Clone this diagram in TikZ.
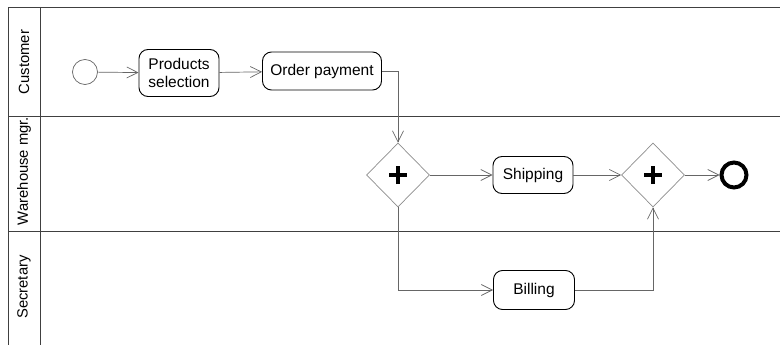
\documentclass[tikz,border=0pt]{standalone}
\usepackage{fontspec}
\setmainfont{Liberation Sans}
\usetikzlibrary{arrows.meta,shapes.geometric}
\begin{document}
\begin{tikzpicture}[x=1pt,y=-1pt,
  lane/.style={draw=black!75,line width=0.8pt},
  lanelabel/.style={rotate=90,font=\fontsize{14.8}{18}\selectfont},
  task/.style={draw=black,line width=0.9pt,rounded corners=9pt,align=center,
    font=\fontsize{15.5}{18}\selectfont,inner sep=0pt},
  gate/.style={draw=black!45,line width=0.7pt,diamond,minimum width=63pt,minimum height=64pt,inner sep=0pt,aspect=1},
  flow/.style={draw=black!60,line width=0.7pt,-{Straight Barb[length=11pt,width=11pt,line width=0.7pt]}},
  plus/.style={line width=4.2pt}
]
\useasboundingbox (0,0) rectangle (780,345);
% swimlane frame
\draw[lane] (780,7) -- (8,7) -- (8,345);
\draw[lane] (40,7) -- (40,345);
\draw[lane] (8,116) -- (780,116);
\draw[lane] (8,231) -- (780,231);
\node[lanelabel] (lcust) at (24,62) {Customer};
\node[lanelabel] (lware) at (24,171) {Warehouse mgr.};
\node[lanelabel] (lsec) at (24,287) {Secretary};
% events
\node[circle,draw=black!60,line width=0.7pt,minimum size=25pt,inner sep=0pt] (start) at (85,72) {};
\node[circle,draw=black,line width=4pt,minimum size=25pt,inner sep=0pt] (end) at (734,175) {};
% tasks
\node[task,minimum width=80pt,minimum height=47pt] (sel) at (179,73) {Products\\selection};
\node[task,minimum width=119pt,minimum height=38pt] (pay) at (322,71) {Order payment};
\node[task,minimum width=80pt,minimum height=37pt] (ship) at (533,175) {Shipping};
\node[task,minimum width=81pt,minimum height=39pt] (bill) at (534,290) {Billing};
% parallel gateways
\node[gate] (g1) at (398,175) {};
\node[gate] (g2) at (653,175) {};
\foreach \g in {g1,g2}{
  \draw[plus] ([xshift=-9pt]\g.center) -- ([xshift=9pt]\g.center);
  \draw[plus] ([yshift=-9pt]\g.center) -- ([yshift=9pt]\g.center);
}
% sequence flows
\draw[flow] (start) -- (sel);
\draw[flow] (sel) -- (pay);
\draw[flow] (pay.east) -| (g1.north);
\draw[flow] (g1.east) -- (ship.west);
\draw[flow] (g1.south) |- (bill.west);
\draw[flow] (ship.east) -- (g2.west);
\draw[flow] (bill.east) -| (g2.south);
\draw[flow] (g2.east) -- (end);
\end{tikzpicture}
\end{document}
